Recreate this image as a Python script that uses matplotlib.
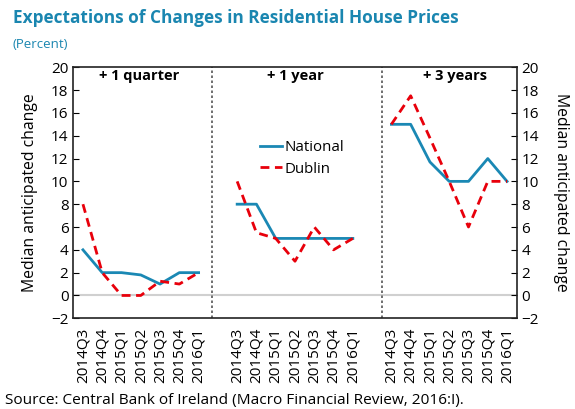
import matplotlib
matplotlib.use("Agg")
import matplotlib.pyplot as plt
import numpy as np

quarters = ["2014Q3", "2014Q4", "2015Q1", "2015Q2", "2015Q3", "2015Q4", "2016Q1"]
panels = ["+ 1 quarter", "+ 1 year", "+ 3 years"]

national_1q = [4, 2, 2, 1.8, 1, 2, 2]
dublin_1q = [8, 2, 0, 0, 1.25, 1, 2]
national_1y = [8, 8, 5, 5, 5, 5, 5]
dublin_1y = [10, 5.5, 5, 3, 6, 4, 5]
national_3y = [15, 15, 11.7, 10, 10, 12, 10]
dublin_3y = [15, 17.5, 13.8, 10, 6, 10, 10]

blue = "#1a88b4"
red = "#e8000b"
title_col = "#1a86b0"
plt.rcParams['font.family'] = ['Open Sans', 'DejaVu Sans']

fig = plt.figure(figsize=(5.75, 4.09), dpi=100)
ax = fig.add_axes([0.1275, 0.2218, 0.7711, 0.6137])

nat = [national_1q, national_1y, national_3y]
dub = [dublin_1q, dublin_1y, dublin_3y]
labels = []
for p in range(3):
    xs = np.arange(7) + p * 8
    ax.plot(xs, nat[p], color=blue, lw=2.0, label="National" if p == 0 else None)
    ax.plot(xs, dub[p], color=red, lw=2.0, ls=(0, (3.2, 2.0)), label="Dublin" if p == 0 else None)
    labels += quarters
    if p < 2:
        labels.append("")

ax2 = ax.twinx()
ax2.set_ylim(-2, 20)
ax2.set_yticks([])
ax2.set_ylabel("Median anticipated change", fontsize=11.3, rotation=-90, labelpad=38)
for s in ax2.spines.values():
    s.set_visible(False)

ax.set_xlim(-0.5, 22.5)
ax.set_ylim(-2, 20)
ax.set_xticks(np.arange(23))
ax.set_xticklabels(labels, rotation=90, fontsize=11)
ax.tick_params(axis='x', length=0, pad=7)
ax.set_yticks(np.arange(-2, 21, 2))
ax.tick_params(axis='y', direction='in', length=4, labelsize=11, left=True, right=True,
               labelleft=True, labelright=True)
ax.yaxis.set_ticks_position('both')
ax.axhline(0, color="#d0d0d0", lw=1.5, zorder=0)
for xv in [6.72, 15.53]:
    ax.axvline(xv, color="#555555", lw=1.2, ls=(0, (1.5, 1.5)))
for s in ax.spines.values():
    s.set_color("#222222")
    s.set_linewidth(1.2)

ax.set_ylabel("Median anticipated change", fontsize=11.3, labelpad=9)

for p, name in enumerate(panels):
    cx = [2.9, 11.0, 19.3][p]
    ax.text(cx, 19.2, name, ha='center', va='center', fontsize=10.5, fontweight='bold')

ax.legend(loc='upper left', bbox_to_anchor=(0.39, 0.765), frameon=False, fontsize=10.8,
          handlelength=1.5, handletextpad=0.15, labelspacing=0.45)

fig.text(0.022, 0.955, "Expectations of Changes in Residential House Prices", fontsize=12.4,
         fontweight='bold', color=title_col, va='center')
fig.text(0.022, 0.89, "(Percent)", fontsize=9.5, color=title_col, va='center')
fig.text(0.008, 0.022, "Source: Central Bank of Ireland (Macro Financial Review, 2016:I).",
         fontsize=11.1, va='center')

fig.savefig("out.png", dpi=100)
